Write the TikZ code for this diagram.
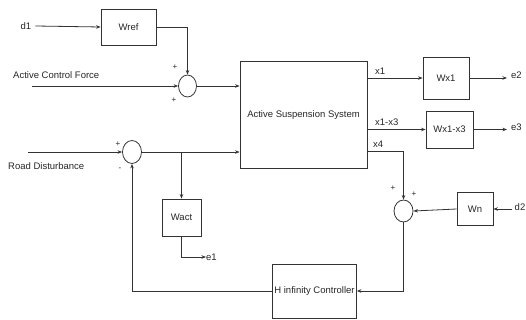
\documentclass[tikz,border=0pt]{standalone}
\usepackage{fontspec}
\setmainfont{Liberation Sans}
\usetikzlibrary{arrows.meta,shapes.geometric}
\begin{document}
\begin{tikzpicture}[x=1pt,y=-1pt,
  blk/.style={draw=black!80, line width=0.8pt, inner sep=0pt, font=\fontsize{9.5}{11}\selectfont, text=black!85},
  sumn/.style={draw=black!80, line width=0.8pt, ellipse, inner sep=0pt, minimum width=18pt, minimum height=22pt},
  lbl/.style={inner sep=0pt, font=\fontsize{9.5}{11}\selectfont, text=black!85},
  sgn/.style={inner sep=0pt, font=\fontsize{8}{9}\selectfont, text=black!85},
  arr/.style={draw=black!80, line width=0.8pt, -{Stealth[length=4.5pt,width=3.5pt]}}]
\useasboundingbox (0,0) rectangle (526,320);
% blocks
\node[blk, minimum width=55pt, minimum height=36pt] (wref) at (128.5,27) {Wref};
\node[sumn] (s1) at (187.5,86) {};
\node[blk, minimum width=127pt, minimum height=107pt] (ass) at (303.5,115) {Active Suspension System};
\node[sumn, minimum width=19pt, minimum height=23pt] (s2) at (132,152) {};
\node[blk, minimum width=39pt, minimum height=37pt] (wact) at (181.5,217.5) {Wact};
\node[blk, minimum width=84pt, minimum height=54pt] (hinf) at (314.5,291) {H infinity Controller};
\node[sumn, minimum width=19pt] (s3) at (403.5,211) {};
\node[blk, minimum width=36pt, minimum height=33pt] (wn) at (475,209) {Wn};
\node[blk, minimum width=46pt, minimum height=42pt] (wx1) at (446,78) {Wx1};
\node[blk, minimum width=47pt, minimum height=37pt] (wx13) at (449.5,129.5) {Wx1-x3};
% labels
\node[lbl] (d1) at (26,26) {d1};
\node[lbl, anchor=west] (acf) at (13,75) {Active Control Force};
\node[lbl, anchor=west] (rd) at (8,166) {Road Disturbance};
\node[lbl, anchor=west] (e1) at (206,257) {e1};
\node[lbl, anchor=west] (e2) at (511,75) {e2};
\node[lbl, anchor=west] (e3) at (511,127) {e3};
\node[lbl, anchor=east] (d2) at (525.5,207) {d2};
\node[lbl, anchor=west] (x1) at (375,71) {x1};
\node[lbl, anchor=west] (x13) at (375,122) {x1-x3};
\node[lbl, anchor=west] (x4) at (373,144) {x4};
\node[sgn] (p1) at (175,67) {+};
\node[sgn] (p2) at (174,100) {+};
\node[sgn] (p3) at (118,144) {+};
\node[sgn] (m1) at (120,169) {-};
\node[sgn] (p4) at (393,188) {+};
\node[sgn] (p5) at (414,194) {+};
% coordinates
\coordinate (acfin) at (32,86);
\coordinate (rdin) at (28,152);
\coordinate (br) at (181.5,152);
\coordinate (e2t) at (507,78);
\coordinate (e3t) at (507,129.5);
\coordinate (d2s) at (512,209);
\coordinate (x4o) at (367,151);
% connectors
\draw[arr] ([xshift=4pt]d1.east) -- (wref.west);
\draw[arr] (wref.east) -| (s1.north);
\draw[arr] (acfin) -- (s1.west);
\draw[arr] (s1.east) -- (s1.east -| ass.west);
\draw[arr] (rdin) -- (s2.west);
\draw[arr] (s2.east) -- (s2.east -| ass.west);
\draw[arr] (br) -- (wact.north);
\draw[arr] (wact.south) |- (e1.west);
\draw[arr] (hinf.west) -| (s2.south);
\draw[arr] (s3.south) |- (hinf.east);
\draw[arr] (wn.west) -- (s3.east);
\draw[arr] (d2s) -- (wn.east);
\draw[arr] (ass.east |- wx1.west) -- (wx1.west);
\draw[arr] (ass.east |- wx13.west) -- (wx13.west);
\draw[arr] (x4o) -| (s3.north);
\draw[arr] (wx1.east) -- (e2t);
\draw[arr] (wx13.east) -- (e3t);
\end{tikzpicture}
\end{document}
